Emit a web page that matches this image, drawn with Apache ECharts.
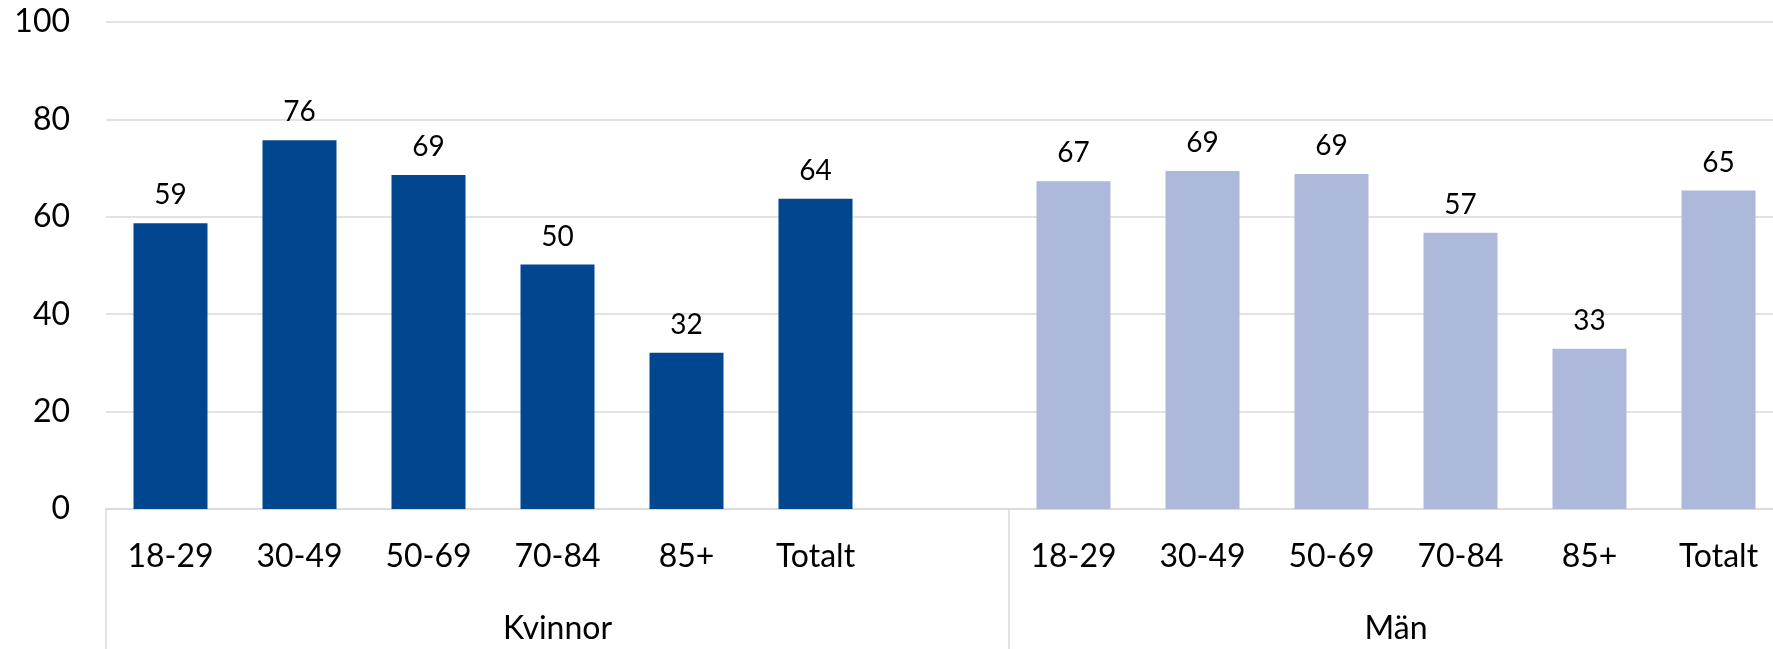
<!DOCTYPE html>
<html>
<head>
<meta charset="utf-8">
<script src="https://cdn.jsdelivr.net/npm/echarts@6/dist/echarts.min.js"></script>
<style>html,body{margin:0;padding:0;background:#fff}#c{width:1773px;height:649px}</style>
</head>
<body>
<div id="c"></div>
<script>
const categories = ['18-29','30-49','50-69','70-84','85+','Totalt','','18-29','30-49','50-69','70-84','85+','Totalt'];
const kvinnor = [58.7, 75.7, 68.6, 50.2, 32.1, 63.7, null, null, null, null, null, null, null];
const man = [null, null, null, null, null, null, null, 67.3, 69.4, 68.8, 56.7, 32.9, 65.4];
const groups = ['Kvinnor', 'Män'];
const groupCenters = [3.5, 10];
const groupBounds = [0, 7];
const yTicks = { min: 0, max: 100, interval: 20 };

const FONT = 'Lato';
const chart = echarts.init(document.getElementById('c'));
const lbl = {
  show: true, position: 'top', distance: 14,
  fontFamily: FONT, fontSize: 28, color: '#000',
  formatter: p => p.value == null ? '' : Math.round(p.value)
};
chart.setOption({
  animation: false,
  grid: { left: 106, top: 22, width: 1677, bottom: 140, containLabel: false, outerBoundsMode: 'none' },
  xAxis: [
    {
      type: 'category', data: categories, position: 'bottom',
      axisLine: { show: true, lineStyle: { color: '#d9d9d9', width: 1.5 } },
      axisTick: { show: false },
      axisLabel: { fontFamily: FONT, fontSize: 32, color: '#000', margin: 32, interval: 0 }
    },
    {
      type: 'value', min: 0, max: categories.length, position: 'bottom', offset: 0,
      axisLine: { show: false },
      splitLine: { show: false },
      axisTick: { show: true, customValues: groupBounds, length: 140, inside: false,
                  lineStyle: { color: '#d9d9d9', width: 1.5 } },
      axisLabel: { show: true, customValues: groupCenters, fontFamily: FONT, fontSize: 32, color: '#000', margin: 104,
                   formatter: v => { const i = groupCenters.indexOf(v); return i >= 0 ? groups[i] : ''; } }
    }
  ],
  yAxis: {
    type: 'value', min: yTicks.min, max: yTicks.max, interval: yTicks.interval,
    axisLine: { show: false }, axisTick: { show: false },
    axisLabel: { fontFamily: FONT, fontSize: 32, color: '#000', margin: 36 },
    splitLine: { lineStyle: { color: '#d9d9d9', width: 1.5 } }
  },
  series: [
    { type: 'bar', name: 'Kvinnor', data: kvinnor, barWidth: 74, barGap: '-100%',
      itemStyle: { color: '#00478F' }, label: lbl },
    { type: 'bar', name: 'Män', data: man, barWidth: 74, barGap: '-100%',
      itemStyle: { color: '#ADB9DA' }, label: lbl }
  ]
});
</script>
</body>
</html>
